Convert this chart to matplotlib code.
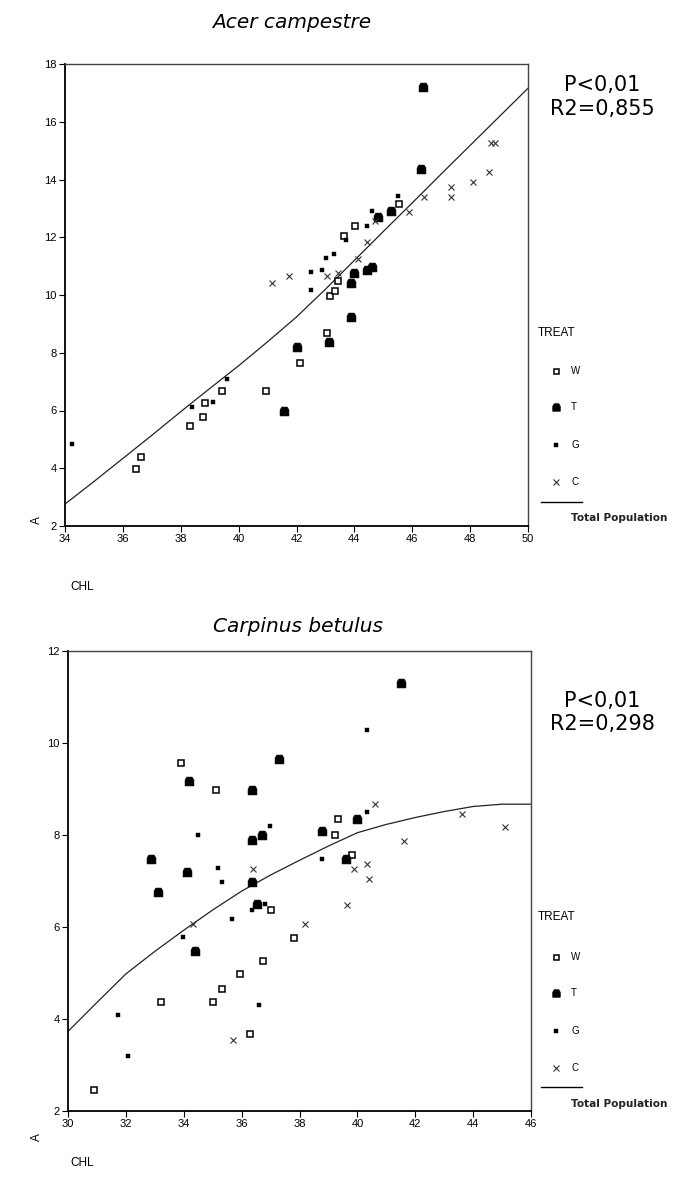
import matplotlib
matplotlib.use("Agg")
import matplotlib.pyplot as plt
from matplotlib.path import Path
import numpy as np

# ---------------- data: Acer campestre ----------------
acer_W_x = [36.45, 36.64, 38.33, 38.76, 38.85, 39.42, 40.95, 42.12, 43.04, 43.16, 43.33, 43.42, 43.64, 44.02, 45.54]
acer_W_y = [3.99, 4.40, 5.48, 5.77, 6.27, 6.68, 6.68, 7.66, 8.67, 9.97, 10.15, 10.49, 12.05, 12.39, 13.15]
acer_T_x = [41.57, 42.02, 43.13, 43.88, 43.87, 44.00, 44.42, 44.60, 44.80, 45.27, 46.29, 46.38]
acer_T_y = [6.00, 8.21, 8.38, 9.23, 10.43, 10.77, 10.87, 10.98, 12.69, 12.91, 14.36, 17.21]
acer_G_x = [34.23, 38.39, 39.10, 39.61, 42.50, 42.50, 42.89, 43.02, 43.31, 43.71, 44.42, 44.60, 45.52]
acer_G_y = [4.84, 6.12, 6.30, 7.10, 10.17, 10.79, 10.87, 11.29, 11.41, 11.90, 12.40, 12.92, 13.44]
acer_C_x = [41.17, 41.74, 43.04, 43.42, 44.11, 44.42, 44.72, 45.90, 46.42, 47.34, 47.34, 48.11, 48.64, 48.72, 48.86]
acer_C_y = [10.40, 10.66, 10.66, 10.77, 11.25, 11.85, 12.56, 12.87, 13.39, 13.38, 13.73, 13.90, 14.25, 15.25, 15.25]
acer_fit_x = [34, 35, 36, 37, 38, 39, 40, 41, 42, 43, 44, 45, 46, 47, 48, 49, 50]
acer_fit_y = [2.76, 3.54, 4.34, 5.14, 5.96, 6.76, 7.55, 8.38, 9.24, 10.20, 11.20, 12.20, 13.19, 14.19, 15.18, 16.17, 17.16]

# ---------------- data: Carpinus betulus ----------------
carp_W_x = [30.90, 33.20, 33.90, 35.01, 35.11, 35.32, 35.94, 36.30, 36.73, 37.00, 37.82, 39.21, 39.32, 39.80]
carp_W_y = [2.46, 4.38, 9.57, 4.38, 8.97, 4.65, 4.98, 3.68, 5.27, 6.36, 5.76, 7.99, 8.35, 7.57]
carp_T_x = [32.87, 33.10, 34.11, 34.19, 34.38, 36.37, 36.37, 36.37, 36.52, 36.71, 37.30, 38.77, 39.61, 39.99, 41.51]
carp_T_y = [7.48, 6.77, 7.19, 9.17, 5.47, 8.98, 7.89, 6.98, 6.51, 8.00, 9.65, 8.08, 7.48, 8.35, 11.30]
carp_G_x = [31.72, 32.06, 33.97, 34.49, 35.17, 35.31, 35.68, 36.37, 36.59, 36.80, 36.98, 38.77, 40.32, 40.32]
carp_G_y = [4.08, 3.19, 5.78, 8.01, 7.28, 6.98, 6.17, 6.38, 4.30, 6.51, 8.20, 7.48, 8.50, 10.28]
carp_C_x = [34.33, 35.69, 36.38, 38.20, 39.63, 39.89, 40.32, 40.41, 40.61, 41.61, 43.61, 45.11]
carp_C_y = [6.07, 3.55, 7.26, 6.06, 6.48, 7.26, 7.37, 7.04, 8.68, 7.87, 8.46, 8.17]
carp_fit_x = [30, 31, 32, 33, 34, 35, 36, 37, 38, 39, 40, 41, 42, 43, 44, 45, 46]
carp_fit_y = [3.73, 4.36, 4.98, 5.47, 5.93, 6.37, 6.78, 7.13, 7.45, 7.76, 8.05, 8.23, 8.38, 8.51, 8.62, 8.67, 8.67]

acer_xticks = list(range(34, 51, 2))
acer_yticks = list(range(2, 19, 2))
carp_xticks = list(range(30, 47, 2))
carp_yticks = list(range(2, 13, 2))

treat_labels = ["W", "T", "G", "C"]

# ---------------- styles ----------------
W_PX, H_PX = 674, 1182
fig = plt.figure(figsize=(W_PX / 100, H_PX / 100), dpi=100)

bullet = Path([(-1, -1), (1, -1), (1, 0.35), (0.6, 1), (-0.6, 1), (-1, 0.35), (-1, -1)],
              [Path.MOVETO] + [Path.LINETO] * 5 + [Path.CLOSEPOLY])

styles = {
    "W": dict(marker="s", ms=4.4, mfc="white", mec="black", mew=1.1, ls="none"),
    "T": dict(marker=bullet, ms=6.4, mfc="black", mec="black", mew=0.4, ls="none"),
    "G": dict(marker="s", ms=3.4, mfc="black", mec="black", mew=0.3, ls="none"),
    "C": dict(marker="x", ms=3.8, mec="#333333", mew=0.8, ls="none"),
}

tick_font = dict(family=["Liberation Sans", "DejaVu Sans"], size=8)


def rect(left_px, top_px, right_px, bottom_px):
    return [left_px / W_PX, 1 - bottom_px / H_PX, (right_px - left_px) / W_PX, (bottom_px - top_px) / H_PX]


def panel(r, data, fit, xlim, ylim, xticks, yticks):
    ax = fig.add_axes(r)
    for key, (xs, ys) in data.items():
        ax.plot(xs, ys, **styles[key], zorder=3)
    ax.plot(fit[0], fit[1], color="#222222", lw=0.9, zorder=2)
    ax.set_xlim(*xlim)
    ax.set_ylim(*ylim)
    ax.set_xticks(xticks)
    ax.set_yticks(yticks)
    ax.set_xticklabels([str(t) for t in xticks], fontdict=tick_font)
    ax.set_yticklabels([str(t) for t in yticks], fontdict=tick_font)
    ax.tick_params(direction="out", length=4, width=0.8, pad=2, colors="black")
    for s in ["left", "bottom"]:
        ax.spines[s].set_linewidth(1.3)
        ax.spines[s].set_color("black")
    for s in ["top", "right"]:
        ax.spines[s].set_linewidth(1.0)
        ax.spines[s].set_color("#444444")
    return ax


ax1 = panel(rect(65, 64, 528, 526),
            {"W": (acer_W_x, acer_W_y), "T": (acer_T_x, acer_T_y),
             "G": (acer_G_x, acer_G_y), "C": (acer_C_x, acer_C_y)},
            (acer_fit_x, acer_fit_y), (34, 50), (2, 18), acer_xticks, acer_yticks)

ax2 = panel(rect(68, 651, 531, 1111),
            {"W": (carp_W_x, carp_W_y), "T": (carp_T_x, carp_T_y),
             "G": (carp_G_x, carp_G_y), "C": (carp_C_x, carp_C_y)},
            (carp_fit_x, carp_fit_y), (30, 46), (2, 12), carp_xticks, carp_yticks)

# ---------------- overlay for text & legends (pixel coords) ----------------
ov = fig.add_axes([0, 0, 1, 1], zorder=10)
ov.set_xlim(0, W_PX)
ov.set_ylim(H_PX, 0)
ov.axis("off")

sans = ["DejaVu Sans"]
arial = ["Liberation Sans", "DejaVu Sans"]

ov.text(292, 22, "Acer campestre", family=sans, style="italic", fontsize=14.5, ha="center", va="center")
ov.text(298, 627, "Carpinus betulus", family=sans, style="italic", fontsize=14.5, ha="center", va="center")

ov.text(602, 85, "P<0,01", family=sans, fontsize=15, ha="center", va="center")
ov.text(602, 109, "R2=0,855", family=sans, fontsize=15, ha="center", va="center")
ov.text(602, 701, "P<0,01", family=sans, fontsize=15, ha="center", va="center")
ov.text(602, 724, "R2=0,298", family=sans, fontsize=15, ha="center", va="center")

# axis labels
ov.text(37, 520, "A", family=arial, fontsize=8.5, rotation=90, ha="center", va="center")
ov.text(82, 587, "CHL", family=arial, fontsize=8.5, ha="center", va="center")
ov.text(37, 1137, "A", family=arial, fontsize=8.5, rotation=90, ha="center", va="center")
ov.text(82, 1163, "CHL", family=arial, fontsize=8.5, ha="center", va="center")


def legend(y_treat, ys, y_line, y_total):
    ov.text(538, y_treat, "TREAT", family=arial, fontsize=8.5, ha="left", va="center")
    for lab, yy in zip(treat_labels, ys):
        st = dict(styles[lab])
        if lab == "W":
            st["ms"] = 3.6
        if lab == "T":
            st["ms"] = 5.5
        ov.plot([556], [yy], **st)
        ov.text(571, yy, lab, family=arial, fontsize=7, ha="left", va="center")
    ov.plot([541, 582], [y_line, y_line], color="black", lw=1.0)
    ov.text(571, y_total, "Total Population", family=sans, fontsize=7.6, fontweight="bold",
            ha="left", va="center", color="#222222")


legend(333, [371, 407, 445, 482], 502, 518)
legend(917, [957, 993, 1031, 1068], 1087, 1104)

fig.savefig("out.png", dpi=100)
